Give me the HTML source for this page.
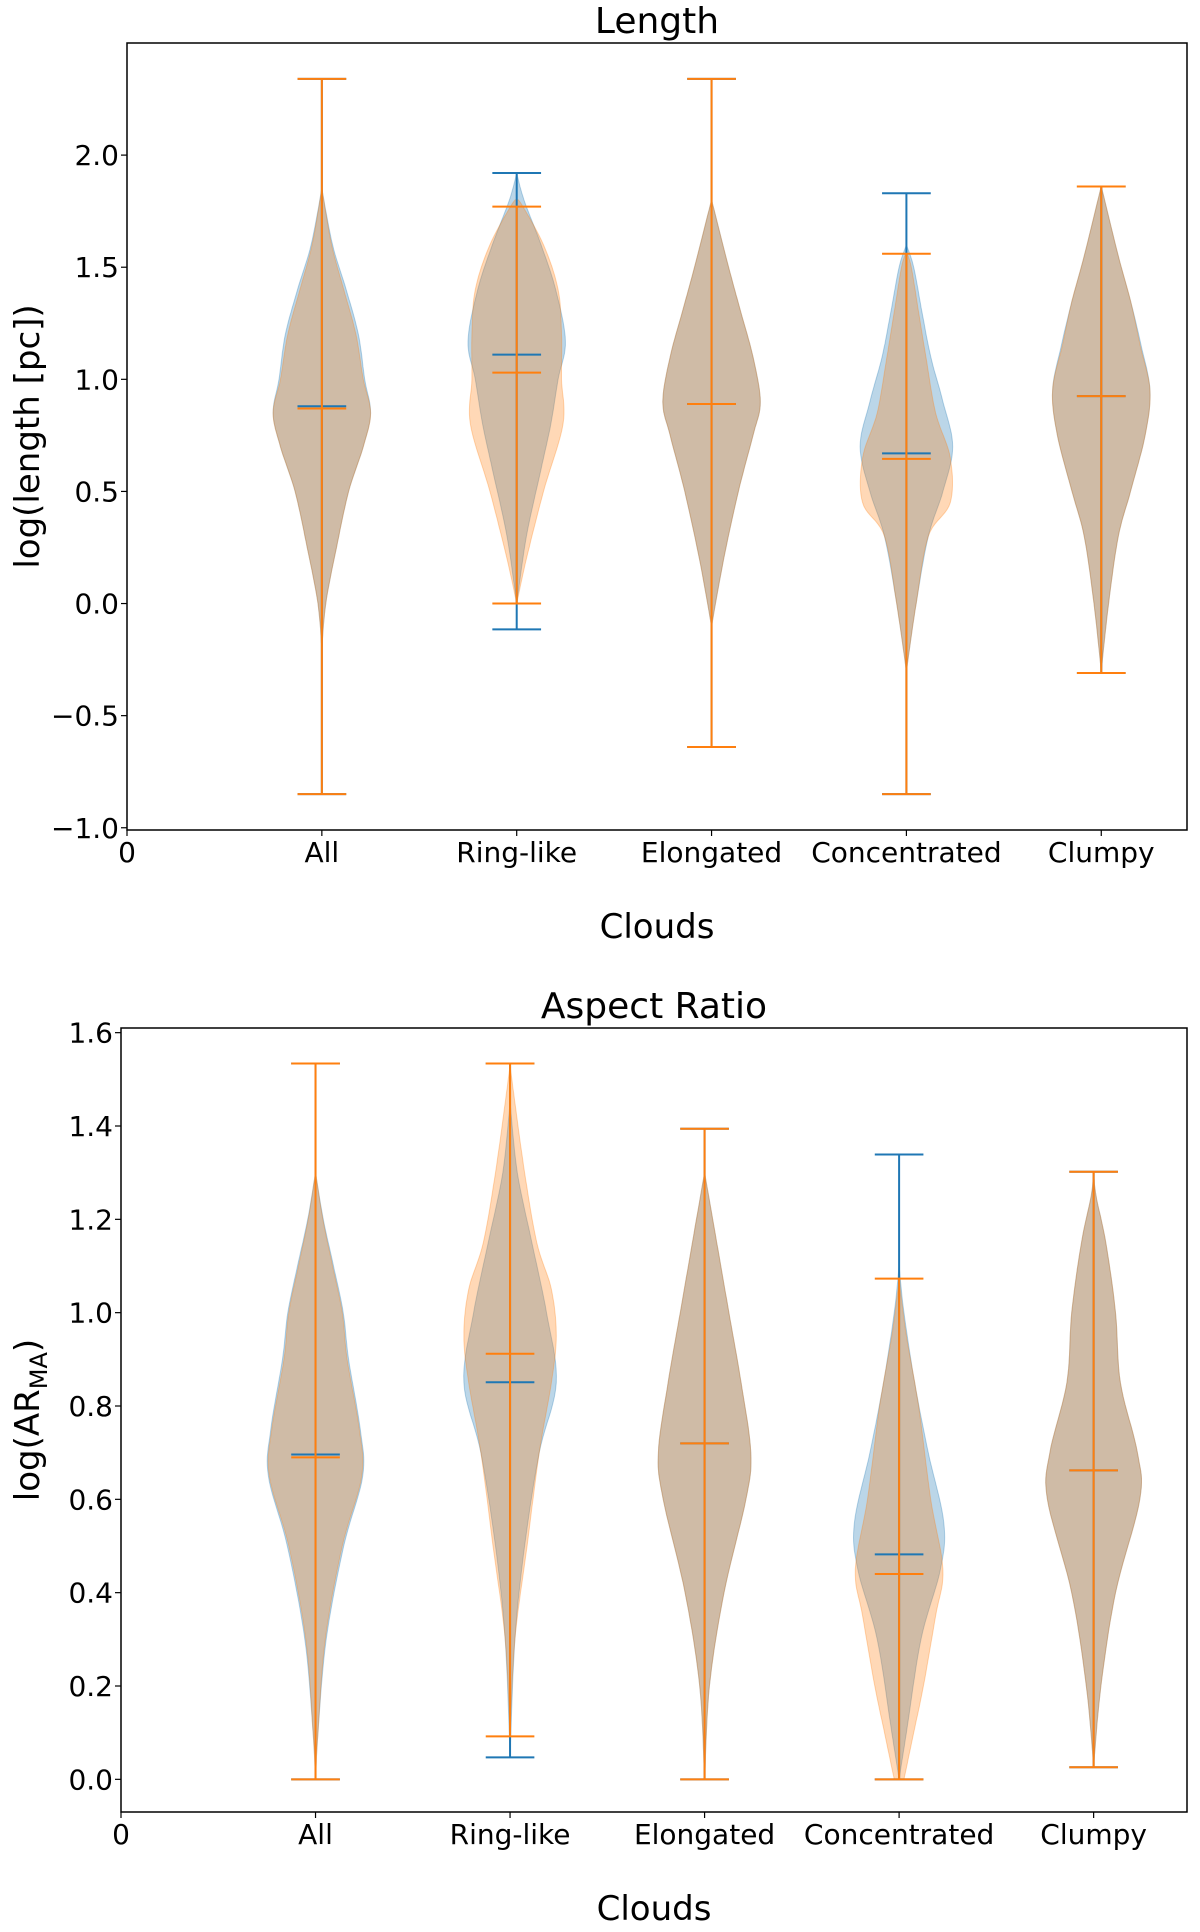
<!DOCTYPE html>
<html><head><meta charset="utf-8"><style>
body{margin:0;background:#fff;}
svg{display:block;font-family:"DejaVu Sans","Liberation Sans",sans-serif;}
</style></head><body>
<svg id="fig" width="1200" height="1932" viewBox="0 0 1200 1932"></svg>
<script>
const categories = ["All","Ring-like","Elongated","Concentrated","Clumpy"];
// Length panel: extrema and means [blue, orange]
const lenBlueMax = [2.34,1.92,2.34,1.83,1.86];
const lenBlueMin = [-0.85,-0.115,-0.64,-0.85,-0.31];
const lenBlueMean = [0.88,1.11,0.89,0.67,0.925];
const lenOrMax = [2.34,1.77,2.34,1.56,1.86];
const lenOrMin = [-0.85,0.0,-0.64,-0.85,-0.31];
const lenOrMean = [0.87,1.03,0.89,0.645,0.925];
// violin density profiles: [value, relative width]
const lenBlueShape = [
 [[-0.2,0],[0,0.08],[0.25,0.3],[0.5,0.55],[0.7,0.85],[0.85,1],[1.0,0.88],[1.2,0.75],[1.4,0.5],[1.6,0.22],[1.85,0]],
 [[0.0,0],[0.3,0.2],[0.6,0.5],[0.8,0.7],[1.0,0.85],[1.17,1],[1.4,0.8],[1.6,0.5],[1.8,0.15],[1.92,0]],
 [[-0.1,0],[0.2,0.25],[0.5,0.55],[0.75,0.85],[0.9,1],[1.1,0.85],[1.3,0.6],[1.5,0.35],[1.8,0]],
 [[-0.3,0],[0,0.2],[0.3,0.45],[0.5,0.75],[0.7,0.95],[0.9,0.75],[1.1,0.5],[1.3,0.32],[1.5,0.15],[1.6,0]],
 [[-0.3,0],[0,0.15],[0.3,0.35],[0.5,0.6],[0.75,0.9],[0.95,1],[1.15,0.82],[1.35,0.6],[1.55,0.35],[1.86,0]]
];
const lenOrShape = [
 [[-0.2,0],[0,0.08],[0.25,0.3],[0.5,0.55],[0.7,0.85],[0.85,1],[1.0,0.85],[1.2,0.7],[1.4,0.45],[1.6,0.2],[1.85,0]],
 [[0.0,0],[0.2,0.2],[0.5,0.55],[0.8,0.95],[1.0,0.92],[1.2,0.92],[1.4,0.85],[1.6,0.55],[1.78,0.1],[1.8,0]],
 [[-0.1,0],[0.2,0.25],[0.5,0.55],[0.75,0.85],[0.9,1],[1.1,0.85],[1.3,0.6],[1.5,0.35],[1.8,0]],
 [[-0.3,0],[0,0.2],[0.3,0.45],[0.45,0.9],[0.65,0.9],[0.85,0.6],[1.1,0.4],[1.3,0.25],[1.5,0.1],[1.57,0]],
 [[-0.3,0],[0,0.15],[0.3,0.35],[0.5,0.6],[0.75,0.9],[0.95,1],[1.15,0.8],[1.35,0.6],[1.55,0.35],[1.86,0]]
];
// Aspect ratio panel
const arBlueMax = [1.534,1.534,1.394,1.339,1.302];
const arBlueMin = [0,0.047,0,0,0.026];
const arBlueMean = [0.696,0.851,0.72,0.482,0.662];
const arOrMax = [1.534,1.534,1.394,1.073,1.302];
const arOrMin = [0,0.092,0,0,0.026];
const arOrMean = [0.69,0.912,0.72,0.44,0.662];
const arBlueShape = [
 [[0,0],[0.1,0.05],[0.3,0.22],[0.5,0.58],[0.65,0.97],[0.75,0.92],[0.9,0.68],[1.0,0.57],[1.1,0.37],[1.2,0.16],[1.3,0]],
 [[0.05,0],[0.3,0.1],[0.5,0.3],[0.7,0.6],[0.85,0.95],[1.0,0.75],[1.15,0.45],[1.3,0.15],[1.45,0]],
 [[0,0],[0.2,0.1],[0.4,0.4],[0.6,0.85],[0.7,0.95],[0.85,0.75],[1.0,0.5],[1.15,0.25],[1.3,0]],
 [[0,0],[0.1,0.15],[0.3,0.45],[0.45,0.85],[0.55,0.92],[0.7,0.6],[0.85,0.32],[1.0,0.1],[1.1,0]],
 [[0.03,0],[0.2,0.15],[0.4,0.45],[0.6,0.95],[0.7,0.9],[0.85,0.55],[1.0,0.45],[1.15,0.25],[1.25,0.05],[1.3,0]]
];
const arOrShape = [
 [[0,0],[0.1,0.05],[0.3,0.2],[0.5,0.55],[0.65,0.95],[0.75,0.9],[0.9,0.65],[1.0,0.55],[1.1,0.35],[1.2,0.15],[1.3,0]],
 [[0.1,0],[0.3,0.1],[0.5,0.35],[0.7,0.6],[0.85,0.85],[0.95,0.95],[1.05,0.85],[1.15,0.55],[1.3,0.3],[1.45,0.1],[1.53,0]],
 [[0,0],[0.2,0.1],[0.4,0.4],[0.6,0.85],[0.7,0.95],[0.85,0.75],[1.0,0.5],[1.15,0.25],[1.3,0]],
 [[0,0.1],[0.1,0.3],[0.2,0.5],[0.35,0.75],[0.45,0.9],[0.6,0.65],[0.8,0.4],[0.95,0.15],[1.07,0]],
 [[0.03,0],[0.2,0.15],[0.4,0.45],[0.6,0.95],[0.7,0.9],[0.85,0.55],[1.0,0.45],[1.15,0.25],[1.25,0.05],[1.3,0]]
];
const lenTicks = [-1.0,-0.5,0.0,0.5,1.0,1.5,2.0];
const arTicks = [0.0,0.2,0.4,0.6,0.8,1.0,1.2,1.4,1.6];

const NS="http://www.w3.org/2000/svg";
const svg=document.getElementById('fig');
function mk(tag,attrs,parent){const e=document.createElementNS(NS,tag);for(const k in attrs)e.setAttribute(k,attrs[k]);(parent||svg).appendChild(e);return e;}

function smooth(pts){
  const out=[];
  for(let i=0;i<pts.length-1;i++){
    const p0=pts[Math.max(0,i-1)],p1=pts[i],p2=pts[i+1],p3=pts[Math.min(pts.length-1,i+2)];
    for(let t=0;t<1;t+=0.1){
      const t2=t*t,t3=t2*t;
      const f=(a,b,c,d)=>0.5*((2*b)+(-a+c)*t+(2*a-5*b+4*c-d)*t2+(-a+3*b-3*c+d)*t3);
      out.push([f(p0[0],p1[0],p2[0],p3[0]),Math.max(0,f(p0[1],p1[1],p2[1],p3[1]))]);
    }
  }
  out.push(pts[pts.length-1]);
  return out;
}

function panel(cfg){
  const g=mk('g',{});
  
  
  const X=v=>cfg.x0+(v-cfg.xmin)/(cfg.xmax-cfg.xmin)*(cfg.x1-cfg.x0);
  const Y=v=>cfg.y1-(v-cfg.ymin)/(cfg.ymax-cfg.ymin)*(cfg.y1-cfg.y0);
  const halfW=0.25,cap=0.125;
  function violin(i,shape,color,nm){
    const pts=smooth(shape);
    const c=i+1;
    let d='';
    pts.forEach((p,k)=>{d+=(k?'L':'M')+X(c+p[1]*halfW).toFixed(1)+','+Y(p[0]).toFixed(1);});
    for(let k=pts.length-1;k>=0;k--){const p=pts[k];d+='L'+X(c-p[1]*halfW).toFixed(1)+','+Y(p[0]).toFixed(1);}
    d+='Z';
    const e=mk('path',{d:d,fill:color,'fill-opacity':0.3,stroke:color,'stroke-opacity':0.3,'stroke-width':1},g);
    
    
  }
  function lines(i,mx,mn,mean,color,nm){
    const c=i+1;
    const v=mk('line',{x1:X(c),x2:X(c),y1:Y(mx),y2:Y(mn),stroke:color,'stroke-width':2},g);
    
    
    [[mx,'max'],[mn,'min'],[mean,'mean']].forEach(([val,t])=>{
      const l=mk('line',{x1:X(c-cap),x2:X(c+cap),y1:Y(val),y2:Y(val),stroke:color,'stroke-width':2},g);
      
      
    });
  }
  const B='#1f77b4',O='#ff7f0e';
  categories.forEach((cat,i)=>{
    const k=cat.toLowerCase();
    violin(i,cfg.bShape[i],B,'violin-blue-'+k);
    violin(i,cfg.oShape[i],O,'violin-orange-'+k);
  });
  categories.forEach((cat,i)=>{
    const k=cat.toLowerCase();
    lines(i,cfg.bMax[i],cfg.bMin[i],cfg.bMean[i],B,'blue-'+k);
  });
  categories.forEach((cat,i)=>{
    const k=cat.toLowerCase();
    lines(i,cfg.oMax[i],cfg.oMin[i],cfg.oMean[i],O,'orange-'+k);
  });
  const fr=mk('rect',{x:cfg.x0,y:cfg.y0,width:cfg.x1-cfg.x0,height:cfg.y1-cfg.y0,fill:'none',stroke:'#000','stroke-width':1.5},g);
  
  
  cfg.ticks.forEach(t=>{
    const y=Y(t);
    mk('line',{x1:cfg.x0-6,x2:cfg.x0,y1:y,y2:y,stroke:'#000','stroke-width':1.2},g);
    const tx=mk('text',{x:cfg.x0-8,y:y+10,'text-anchor':'end','font-size':28},g);
    tx.textContent=(t<0?'\u2212':'')+Math.abs(t).toFixed(1);
    
    
  });
  ['0'].concat(categories).forEach((lab,i)=>{
    const x=X(i);
    mk('line',{x1:x,x2:x,y1:cfg.y1,y2:cfg.y1+6,stroke:'#000','stroke-width':1.2},g);
    const tx=mk('text',{x:x,y:cfg.y1+32,'text-anchor':'middle','font-size':28},g);
    tx.textContent=lab;
    
    
  });
  const ti=mk('text',{x:(cfg.x0+cfg.x1)/2,y:cfg.y0-10,'text-anchor':'middle','font-size':36},g);
  ti.textContent=cfg.title;
  
  
  const xl=mk('text',{x:(cfg.x0+cfg.x1)/2,y:cfg.y1+108,'text-anchor':'middle','font-size':34},g);
  xl.textContent='Clouds';
  
  
  const yl=mk('text',{x:0,y:0,'text-anchor':'middle','font-size':34,transform:'translate(39,'+((cfg.y0+cfg.y1)/2)+') rotate(-90)'},g);
  
  
  if(cfg.sub){
    yl.appendChild(document.createTextNode(cfg.ylabel));
    const s=mk('tspan',{'font-size':24,dy:8},yl);s.textContent=cfg.sub;
    const r=mk('tspan',{dy:-8},yl);r.textContent=')';
  } else yl.textContent=cfg.ylabel;
}

panel({name:'length-panel',title:'Length',ylabel:'log(length [pc])',x0:127,x1:1187,y0:43,y1:830,xmin:0,xmax:5.44,ymin:-1.01,ymax:2.5,ticks:lenTicks,
  bShape:lenBlueShape,oShape:lenOrShape,bMax:lenBlueMax,bMin:lenBlueMin,bMean:lenBlueMean,oMax:lenOrMax,oMin:lenOrMin,oMean:lenOrMean});
panel({name:'aspect-ratio-panel',title:'Aspect Ratio',ylabel:'log(AR',sub:'MA',x0:121,x1:1187,y0:1028,y1:1812,xmin:0,xmax:5.48,ymin:-0.07,ymax:1.61,ticks:arTicks,
  bShape:arBlueShape,oShape:arOrShape,bMax:arBlueMax,bMin:arBlueMin,bMean:arBlueMean,oMax:arOrMax,oMin:arOrMin,oMean:arOrMean});
</script>
</body></html>
